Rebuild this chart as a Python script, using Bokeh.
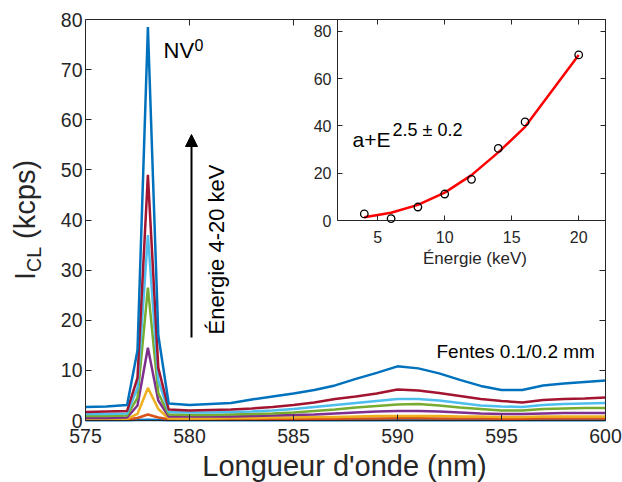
from bokeh.plotting import figure
from bokeh.models import (Range1d, LinearAxis, FixedTicker, Label, Arrow, NormalHead,
                          CustomJSTickFormatter)
from bokeh.embed import file_html
from bokeh.resources import INLINE

# ---------------- data ----------------
wavelength = [575, 576, 577, 577.5, 578, 578.5, 579, 580, 581, 582, 583, 584, 585, 586,
              587, 588, 589, 590, 591, 592, 593, 594, 595, 596, 597, 598, 599, 600]

spec_4keV = [0.05, 0.05, 0.05, 0.08, 0.15, 0.08, 0.05, 0.05, 0.05, 0.05, 0.05, 0.05, 0.05, 0.05,
             0.05, 0.05, 0.05, 0.05, 0.05, 0.05, 0.05, 0.05, 0.05, 0.05, 0.05, 0.05, 0.05, 0.05]
spec_6keV = [0.15, 0.15, 0.2, 0.5, 1.2, 0.6, 0.25, 0.25, 0.25, 0.25, 0.3, 0.3, 0.3, 0.35,
             0.35, 0.4, 0.4, 0.45, 0.45, 0.4, 0.4, 0.4, 0.35, 0.35, 0.4, 0.4, 0.4, 0.4]
spec_8keV = [0.3, 0.3, 0.3, 1.3, 6.5, 2.3, 0.4, 0.4, 0.4, 0.5, 0.5, 0.6, 0.6, 0.7,
             0.7, 0.8, 0.9, 0.9, 0.9, 0.9, 0.8, 0.8, 0.7, 0.7, 0.8, 0.8, 0.8, 0.8]
spec_10keV = [0.5, 0.5, 0.6, 3.0, 14.5, 4.0, 0.8, 0.8, 0.8, 0.8, 0.9, 1.0, 1.1, 1.2,
              1.4, 1.6, 1.8, 1.9, 1.9, 1.8, 1.6, 1.4, 1.3, 1.3, 1.4, 1.5, 1.5, 1.5]
spec_12keV = [0.9, 0.9, 1.0, 4.5, 26.5, 5.5, 1.2, 1.1, 1.1, 1.2, 1.3, 1.4, 1.6, 1.9,
              2.2, 2.6, 2.9, 3.2, 3.3, 3.0, 2.6, 2.3, 2.0, 2.0, 2.3, 2.4, 2.5, 2.5]
spec_14keV = [1.3, 1.3, 1.4, 6.5, 37.0, 8.0, 1.7, 1.6, 1.6, 1.7, 1.8, 2.0, 2.3, 2.7,
              3.1, 3.5, 3.9, 4.3, 4.3, 4.0, 3.5, 3.0, 2.8, 2.7, 3.1, 3.3, 3.4, 3.5]
spec_16keV = [1.7, 1.8, 1.9, 8.5, 49.0, 10.5, 2.2, 2.0, 2.1, 2.2, 2.4, 2.7, 3.1, 3.6,
              4.3, 4.8, 5.4, 6.2, 6.0, 5.5, 4.9, 4.3, 3.9, 3.6, 4.1, 4.3, 4.4, 4.6]
spec_20keV = [2.7, 2.8, 3.1, 14.0, 78.5, 17.0, 3.4, 3.1, 3.3, 3.5, 4.2, 4.8, 5.4, 6.1,
              7.0, 8.3, 9.5, 10.8, 10.4, 9.4, 8.1, 6.9, 6.1, 6.1, 7.0, 7.4, 7.7, 8.0]

spectra = [spec_4keV, spec_6keV, spec_8keV, spec_10keV, spec_12keV, spec_14keV, spec_16keV, spec_20keV]
spectra_colors = ["#0072BD", "#D95319", "#EDB120", "#7E2F8E", "#77AC30", "#4DBEEE", "#A2142F", "#0072BD"]

x_ticks = [575, 580, 585, 590, 595, 600]
y_ticks = [0, 10, 20, 30, 40, 50, 60, 70, 80]

inset_energy = [4, 6, 8, 10, 12, 14, 16, 20]
inset_intensity = [2.8, 0.8, 5.7, 11.2, 17.4, 30.5, 41.7, 70.0]
fit_energy = [4, 6, 8, 10, 12, 14, 16, 20]
fit_intensity = [1.4, 3.3, 6.6, 11.8, 19.2, 28.8, 39.6, 70.0]
inset_x_ticks = [5, 10, 15, 20]
inset_y_ticks = [0, 20, 40, 60, 80]

# ---------------- geometry (frame = whole canvas) ----------------
FONT = "Liberation Sans"
AX = "#262626"
W, H = 622, 482

# main axes box in canvas pixels
M_L, M_R, M_T, M_B = 85, 605, 19, 420
mxs = (M_R - M_L) / 25.0
mys = (M_B - M_T) / 80.0
main_x = Range1d(575 - M_L / mxs, 600 + (W - M_R) / mxs)
main_y = Range1d(0 - (H - M_B) / mys, 80 + M_T / mys)

# inset box in canvas pixels
I_L, I_R, I_T, I_B = 337, 605, 19, 220
ixs = (I_R - I_L) / 20.0
iys = (I_B - I_T) / 85.0
inset_x = Range1d(2 - I_L / ixs, 22 + (W - I_R) / ixs)
inset_y = Range1d(0 - (H - I_B) / iys, 85 + I_T / iys)

def mx(px):
    return 575 + (px - M_L) / mxs

def my(py):
    return (M_B - py) / mys

p = figure(width=W, height=H, x_range=main_x, y_range=main_y,
           x_axis_location=None, y_axis_location=None,
           output_backend="svg", toolbar_location=None, min_border=0)
p.min_border_left = 0
p.min_border_right = 0
p.min_border_top = 0
p.min_border_bottom = 0
p.extra_x_ranges = {"ix": inset_x}
p.extra_y_ranges = {"iy": inset_y}
p.grid.visible = False
p.outline_line_color = None
p.background_fill_color = "white"
p.border_fill_color = "white"

empty_fmt = CustomJSTickFormatter(code="return ''")

def make_axis(side, loc, bounds, ticks, size, tick_in, standoff=5, labels=True, rng=None):
    kw = {}
    if rng:
        kw = dict(x_range_name="ix", y_range_name="iy")
    ax = LinearAxis(fixed_location=loc, bounds=bounds, ticker=FixedTicker(ticks=ticks), **kw)
    if not labels:
        ax.formatter = empty_fmt
    ax.major_tick_in = tick_in
    ax.major_tick_out = 0
    ax.minor_tick_line_color = None
    ax.axis_line_color = AX
    ax.axis_line_width = 1
    ax.major_tick_line_color = AX
    ax.major_label_text_color = AX
    ax.major_label_text_font = FONT
    ax.major_label_text_font_size = size
    ax.major_label_standoff = standoff
    p.add_layout(ax, side)
    return ax

# main box
make_axis("below", 0, (575, 600), x_ticks, "19.5px", 6, standoff=8)
make_axis("left", 575, (0, 80), y_ticks, "19.5px", 6, standoff=3)
make_axis("above", 80, (575, 600), [580, 585], "19px", 6, labels=False)
make_axis("right", 600, (0, 80), [0, 10, 20, 30], "19px", 6, labels=False)

# ---------------- spectra ----------------
for ys, c in zip(spectra, spectra_colors):
    p.line(wavelength, ys, line_color=c, line_width=2.5)

# ---------------- inset ----------------
make_axis("below", 0, (2, 22), inset_x_ticks, "16px", 5, standoff=10, rng=True)
make_axis("left", 2, (0, 85), inset_y_ticks, "16px", 5, standoff=6, rng=True)
make_axis("above", 85, (2, 22), inset_x_ticks, "16px", 5, labels=False, rng=True)
make_axis("right", 22, (0, 85), [20, 40, 60, 80], "16px", 5, labels=False, rng=True)

p.line(fit_energy, fit_intensity, x_range_name="ix", y_range_name="iy",
       line_color="#FF0000", line_width=2.5)
p.scatter(inset_energy, inset_intensity, x_range_name="ix", y_range_name="iy",
          marker="circle", size=7.5, fill_color=None, line_color="black", line_width=1.3)

# ---------------- texts (anchored at the middle of the text line) ----------------
def lab(text, px, py, size, align="left", angle=0, color="black"):
    p.add_layout(Label(x=mx(px), y=my(py), text=text, text_font=FONT,
                       text_font_size=f"{size}px",
                       text_align=align, text_baseline="middle", angle=angle,
                       angle_units="deg", text_color=color))

# y label: I_CL (kcps)   (rotated: x is the middle of the text line)
lab("I", 24, 279.5, 29, angle=90, color=AX)
lab("CL", 33, 271.4, 19.5, angle=90, color=AX)
lab("(kcps)", 24, 238.4, 29, angle=90, color=AX)
# x label
lab("Longueur d'onde (nm)", 344, 465, 29, align="center", color=AX)
# inset x label
lab("Énergie (keV)", 474.5, 258, 17, align="center", color=AX)

lab("NV", 163, 49.5, 22)
lab("0", 194, 44.5, 16)
lab("Énergie 4-20 keV", 215.5, 334, 22, angle=90)
lab("Fentes 0.1/0.2 mm", 436, 350.5, 19)
lab("a+E", 352, 138.5, 21)
lab("2.5 ± 0.2", 392, 129, 18)

p.add_layout(Arrow(end=NormalHead(size=12, fill_color="black", line_color="black"),
                   x_start=mx(191), y_start=my(337), x_end=mx(191), y_end=my(134),
                   line_width=2, line_color="black"))

open("out.html", "w").write(file_html(p, INLINE))
